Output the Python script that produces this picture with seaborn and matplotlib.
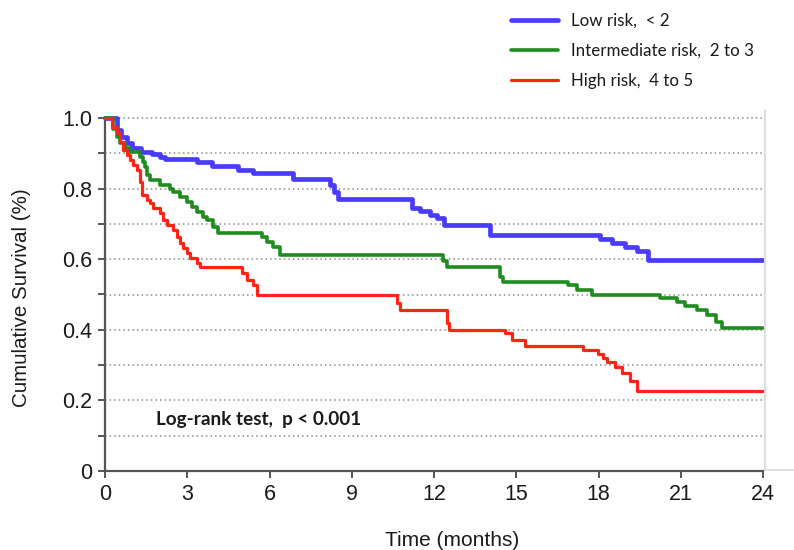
import matplotlib
matplotlib.use("Agg")
import matplotlib.pyplot as plt
from matplotlib.lines import Line2D
from matplotlib.ticker import MultipleLocator
import seaborn as sns
import pandas as pd

# ---- data ----
low_t = [0, 0.45, 0.6, 0.8, 1.0, 1.3, 1.7, 2.0, 2.2, 3.35, 3.9, 4.85, 5.4, 6.85, 8.2, 8.35, 8.5,
         11.2, 11.5, 11.85, 12.1, 12.35, 14.05, 18.05, 18.5, 18.95, 19.4, 19.8, 24]
low_s = [1.0, 0.965, 0.945, 0.93, 0.915, 0.905, 0.898, 0.89, 0.884, 0.874, 0.864, 0.853, 0.845, 0.828,
         0.81, 0.79, 0.77, 0.746, 0.737, 0.726, 0.716, 0.697, 0.669, 0.658, 0.646, 0.635, 0.624, 0.598, 0.598]

mid_t = [0, 0.29, 0.44, 0.55, 0.73, 0.91, 1.28, 1.39, 1.46, 1.55, 1.64, 2.0, 2.37, 2.48, 2.74, 2.99,
         3.17, 3.36, 3.57, 3.72, 3.94, 4.12, 5.73, 5.9, 6.13, 6.38, 12.33, 12.47, 14.4, 14.5, 16.9,
         17.2, 17.76, 20.24, 20.86, 21.15, 21.6, 21.95, 22.3, 22.5, 24]
mid_s = [1.0, 0.97, 0.947, 0.929, 0.915, 0.905, 0.89, 0.876, 0.862, 0.838, 0.824, 0.81, 0.80, 0.791,
         0.777, 0.763, 0.749, 0.735, 0.72, 0.711, 0.692, 0.673, 0.664, 0.65, 0.635, 0.612, 0.596,
         0.579, 0.55, 0.536, 0.527, 0.513, 0.499, 0.491, 0.480, 0.467, 0.456, 0.442, 0.423, 0.404, 0.404]

high_t = [0, 0.25, 0.44, 0.55, 0.66, 0.80, 0.91, 1.02, 1.17, 1.28, 1.35, 1.53, 1.64, 1.75, 2.0, 2.12,
          2.26, 2.48, 2.63, 2.74, 2.84, 2.99, 3.1, 3.36, 3.46, 5.0, 5.18, 5.4, 5.54, 10.65, 10.76,
          12.47, 12.55, 14.59, 14.84, 15.32, 17.43, 17.98, 18.16, 18.31, 18.6, 18.85, 19.15, 19.4, 24]
high_s = [1.0, 0.975, 0.958, 0.933, 0.909, 0.895, 0.881, 0.867, 0.853, 0.82, 0.782, 0.768, 0.758,
          0.744, 0.730, 0.711, 0.697, 0.683, 0.664, 0.645, 0.631, 0.617, 0.603, 0.59, 0.579, 0.56,
          0.541, 0.527, 0.5, 0.475, 0.456, 0.418, 0.40, 0.39, 0.371, 0.354, 0.344, 0.331, 0.32, 0.31,
          0.295, 0.277, 0.255, 0.228, 0.228]

labels = ["Low risk,  < 2", "Intermediate risk,  2 to 3", "High risk,  4 to 5"]
colors = ["#4a3cff", "#1e8c1e", "#ff2414"]
widths = [3.4, 2.6, 2.3]

x_ticks = [0, 3, 6, 9, 12, 15, 18, 21, 24]
y_ticks = [0, 0.2, 0.4, 0.6, 0.8, 1.0]
y_ticklabels = ["0", "0.2", "0.4", "0.6", "0.8", "1.0"]

sns.set_style("white")
plt.rcParams["font.family"] = ["Liberation Sans", "DejaVu Sans"]

fig = plt.figure(figsize=(7.94, 5.5), dpi=100)
ax = fig.add_axes([105/794, 1 - 471/550, (763 - 105)/794, (471 - 118)/550])

# dotted gridlines
for g in [0.1, 0.2, 0.3, 0.4, 0.5, 0.6, 0.7, 0.8, 0.9, 1.0]:
    ax.axhline(g, color="#8a8a8a", lw=1.1, ls=(0, (1, 2)), zorder=0, clip_on=False)

series = [(low_t, low_s), (mid_t, mid_s), (high_t, high_s)]
for (t, s), lab, c, w in zip(series, labels, colors, widths):
    df = pd.DataFrame({"t": t, "s": s})
    sns.lineplot(data=df, x="t", y="s", ax=ax, color=c, lw=w, label=lab,
                 drawstyle="steps-post", estimator=None, sort=False, clip_on=False, zorder=3)

ax.set_xlim(0, 24)
ax.set_ylim(0, 1.0)
ax.set_xticks(x_ticks)
ax.set_xticklabels([str(v) for v in x_ticks])
ax.set_yticks(y_ticks)
ax.set_yticklabels(y_ticklabels)
ax.yaxis.set_minor_locator(MultipleLocator(0.1))
ax.tick_params(axis="both", which="both", direction="out", length=5, width=1.4,
               color="#555555", labelsize=15.5, labelcolor="#1a1a1a", pad=4)
ax.tick_params(axis="y", which="minor", length=5, width=1.4, left=True)
ax.tick_params(axis="x", which="major", bottom=True)
ax.tick_params(axis="y", which="major", left=True)

for side in ["top", "right"]:
    ax.spines[side].set_visible(False)
for side in ["left", "bottom"]:
    ax.spines[side].set_color("#555555")
    ax.spines[side].set_linewidth(1.6)

ax.set_xlabel("Time (months)", fontsize=15, color="#1a1a1a")
ax.xaxis.set_label_coords((452 - 105)/658, (471 - 531)/353)
ax.set_ylabel("Cumulative Survival (%)", fontsize=14.8, color="#1a1a1a")
ax.yaxis.set_label_coords((12 - 105)/658, 0.49)
ax.yaxis.label.set_va("top")

leg = ax.legend(loc="upper left", bbox_to_anchor=(511/794, 1 - 13/550),
                bbox_transform=fig.transFigure, frameon=False, borderpad=0,
                borderaxespad=0, handlelength=2.8, handletextpad=0.75, labelspacing=0.82,
                prop={"family": ["Lato", "DejaVu Sans"], "size": 12.2})
for txt in leg.get_texts():
    txt.set_color("#1a1a1a")

fig.text(156/794, 1 - 420/550, "Log-rank test,  p < 0.001", fontsize=13.6, fontweight="bold",
         family=["Lato", "DejaVu Sans"], color="#1a1a1a", va="center", ha="left")

# faint frame remnants on the right
fig.add_artist(Line2D([765/794, 765/794], [1 - 110/550, 1 - 470/550], color="#dedede", lw=1.5,
                      transform=fig.transFigure))
fig.add_artist(Line2D([765/794, 1.0], [1 - 470/550, 1 - 470/550], color="#dedede", lw=1.5,
                      transform=fig.transFigure))

fig.savefig("out.png", dpi=100, facecolor="white")
